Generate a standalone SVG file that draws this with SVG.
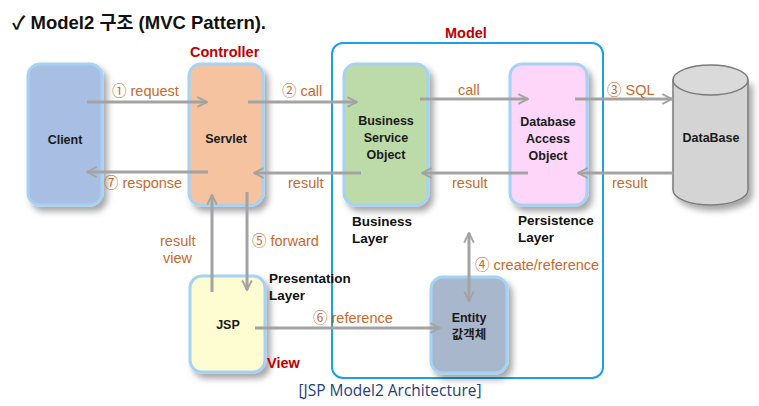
<svg xmlns="http://www.w3.org/2000/svg" width="759" height="406" viewBox="0 0 759 406">
<defs>
<style>
.title{font-family:"Liberation Sans","Noto Sans CJK KR",sans-serif;font-weight:bold;font-size:18.5px;fill:#111}
.role{font-family:"Liberation Sans",sans-serif;font-weight:bold;font-size:14.5px;fill:#c00000}
.layer{font-family:"Liberation Sans",sans-serif;font-weight:bold;font-size:13.5px;fill:#111}
.node{font-family:"Liberation Sans","Noto Sans CJK KR",sans-serif;font-weight:bold;font-size:12.5px;fill:#1a1a1a;text-anchor:middle}
.lbl{font-family:"Liberation Sans","Noto Sans CJK KR",sans-serif;font-size:14.5px;fill:#c96a2c}
.cap{font-family:"Open Sans","Liberation Sans",sans-serif;font-size:15.5px;fill:#24407a;text-anchor:middle}
.box{stroke:#a6d2f4;stroke-width:3;filter:url(#sh)}
.con{stroke:#a3a3a3;stroke-width:3;fill:none}
</style>
<filter id="sh" x="-20%" y="-20%" width="150%" height="150%">
<feDropShadow dx="4" dy="5" stdDeviation="3" flood-color="#000" flood-opacity="0.35"/>
</filter>
<marker id="ah" viewBox="0 0 10 10" refX="9" refY="5" markerWidth="4" markerHeight="4" orient="auto-start-reverse" markerUnits="strokeWidth">
<path d="M1,1 L9,5 L1,9" fill="none" stroke="#a3a3a3" stroke-width="1.6"/>
</marker>
</defs>
<rect width="759" height="406" fill="#fff"/>
<text class="title" x="12" y="29">✓ Model2 구조 (MVC Pattern).</text>

<g id="model">
<rect x="332" y="43" width="271" height="335" rx="11" fill="none" stroke="#1ea0e6" stroke-width="2"/>
<text class="role" x="445" y="38">Model</text>
</g>

<g id="client">
<rect class="box" x="28" y="64" width="74" height="141" rx="12" fill="#a8bee2"/>
<text class="node" x="65" y="144">Client</text>
</g>
<g id="servlet">
<rect class="box" x="189" y="64" width="74" height="141" rx="12" fill="#f5c3a0"/>
<text class="role" x="190" y="57">Controller</text>
<text class="node" x="226" y="143">Servlet</text>
</g>
<g id="bso">
<rect class="box" x="344" y="64" width="84" height="141" rx="12" fill="#bddaa9"/>
<text class="node" x="386" y="125">Business</text>
<text class="node" x="386" y="142">Service</text>
<text class="node" x="386" y="159">Object</text>
<text class="layer" x="352" y="226">Business</text>
<text class="layer" x="352" y="243">Layer</text>
</g>
<g id="dao">
<rect class="box" x="510" y="64" width="77" height="141" rx="12" fill="#fdd6f9"/>
<text class="node" x="548" y="126">Database</text>
<text class="node" x="548" y="143">Access</text>
<text class="node" x="548" y="160">Object</text>
<text class="layer" x="518" y="225">Persistence</text>
<text class="layer" x="518" y="242">Layer</text>
</g>
<g id="database">
<path d="M673,80 L673,190 A37.5,15 0 0 0 748,190 L748,80 Z" fill="#d4d4d4" stroke="#7a7a7a" stroke-width="1.5" filter="url(#sh)"/>
<ellipse cx="710.5" cy="80" rx="37.5" ry="15" fill="#dadada" stroke="#7a7a7a" stroke-width="1.5"/>
<text class="node" x="711" y="142">DataBase</text>
</g>
<g id="jsp">
<rect class="box" x="190" y="276" width="75" height="96" rx="12" fill="#fefdd2"/>
<text class="node" x="228" y="329">JSP</text>
<text class="layer" x="269" y="283">Presentation</text>
<text class="layer" x="269" y="300">Layer</text>
<text class="role" x="267" y="368">View</text>
</g>
<g id="entity">
<rect class="box" x="431" y="277" width="76" height="96" rx="12" fill="#a9b7cd"/>
<text class="node" x="469" y="322">Entity</text>
<text class="node" x="469" y="339">값객체</text>
</g>

<g id="connectors">
<line class="con" x1="87" y1="102" x2="207" y2="102" marker-end="url(#ah)"/>
<line class="con" x1="248" y1="102" x2="357" y2="102" marker-end="url(#ah)"/>
<line class="con" x1="420" y1="99" x2="528" y2="99" marker-end="url(#ah)"/>
<line class="con" x1="575" y1="99" x2="672" y2="99" marker-end="url(#ah)"/>
<line class="con" x1="673" y1="173" x2="578" y2="173" marker-end="url(#ah)"/>
<line class="con" x1="528" y1="173" x2="422" y2="173" marker-end="url(#ah)"/>
<line class="con" x1="361" y1="173" x2="254" y2="173" marker-end="url(#ah)"/>
<line class="con" x1="208" y1="172" x2="87" y2="172" marker-end="url(#ah)"/>
<line class="con" x1="212" y1="292" x2="212" y2="195" marker-end="url(#ah)"/>
<line class="con" x1="247" y1="192" x2="247" y2="290" marker-end="url(#ah)"/>
<line class="con" x1="255" y1="328" x2="440" y2="328" marker-end="url(#ah)"/>
<line class="con" x1="469" y1="233" x2="469" y2="301" marker-start="url(#ah)" marker-end="url(#ah)"/>
<text class="lbl" x="112" y="96">① request</text>
<text class="lbl" x="282" y="96">② call</text>
<text class="lbl" x="458" y="95">call</text>
<text class="lbl" x="607" y="95">③ SQL</text>
<text class="lbl" x="612" y="188">result</text>
<text class="lbl" x="452" y="188">result</text>
<text class="lbl" x="288" y="188">result</text>
<text class="lbl" x="104" y="188">⑦ response</text>
<text class="lbl" x="160" y="246">result</text>
<text class="lbl" x="163" y="263">view</text>
<text class="lbl" x="252" y="246">⑤ forward</text>
<text class="lbl" x="313" y="323">⑥ reference</text>
<text class="lbl" x="475" y="270">④ create/reference</text>
</g>
<text class="cap" x="390" y="396">[JSP Model2 Architecture]</text>
</svg>
